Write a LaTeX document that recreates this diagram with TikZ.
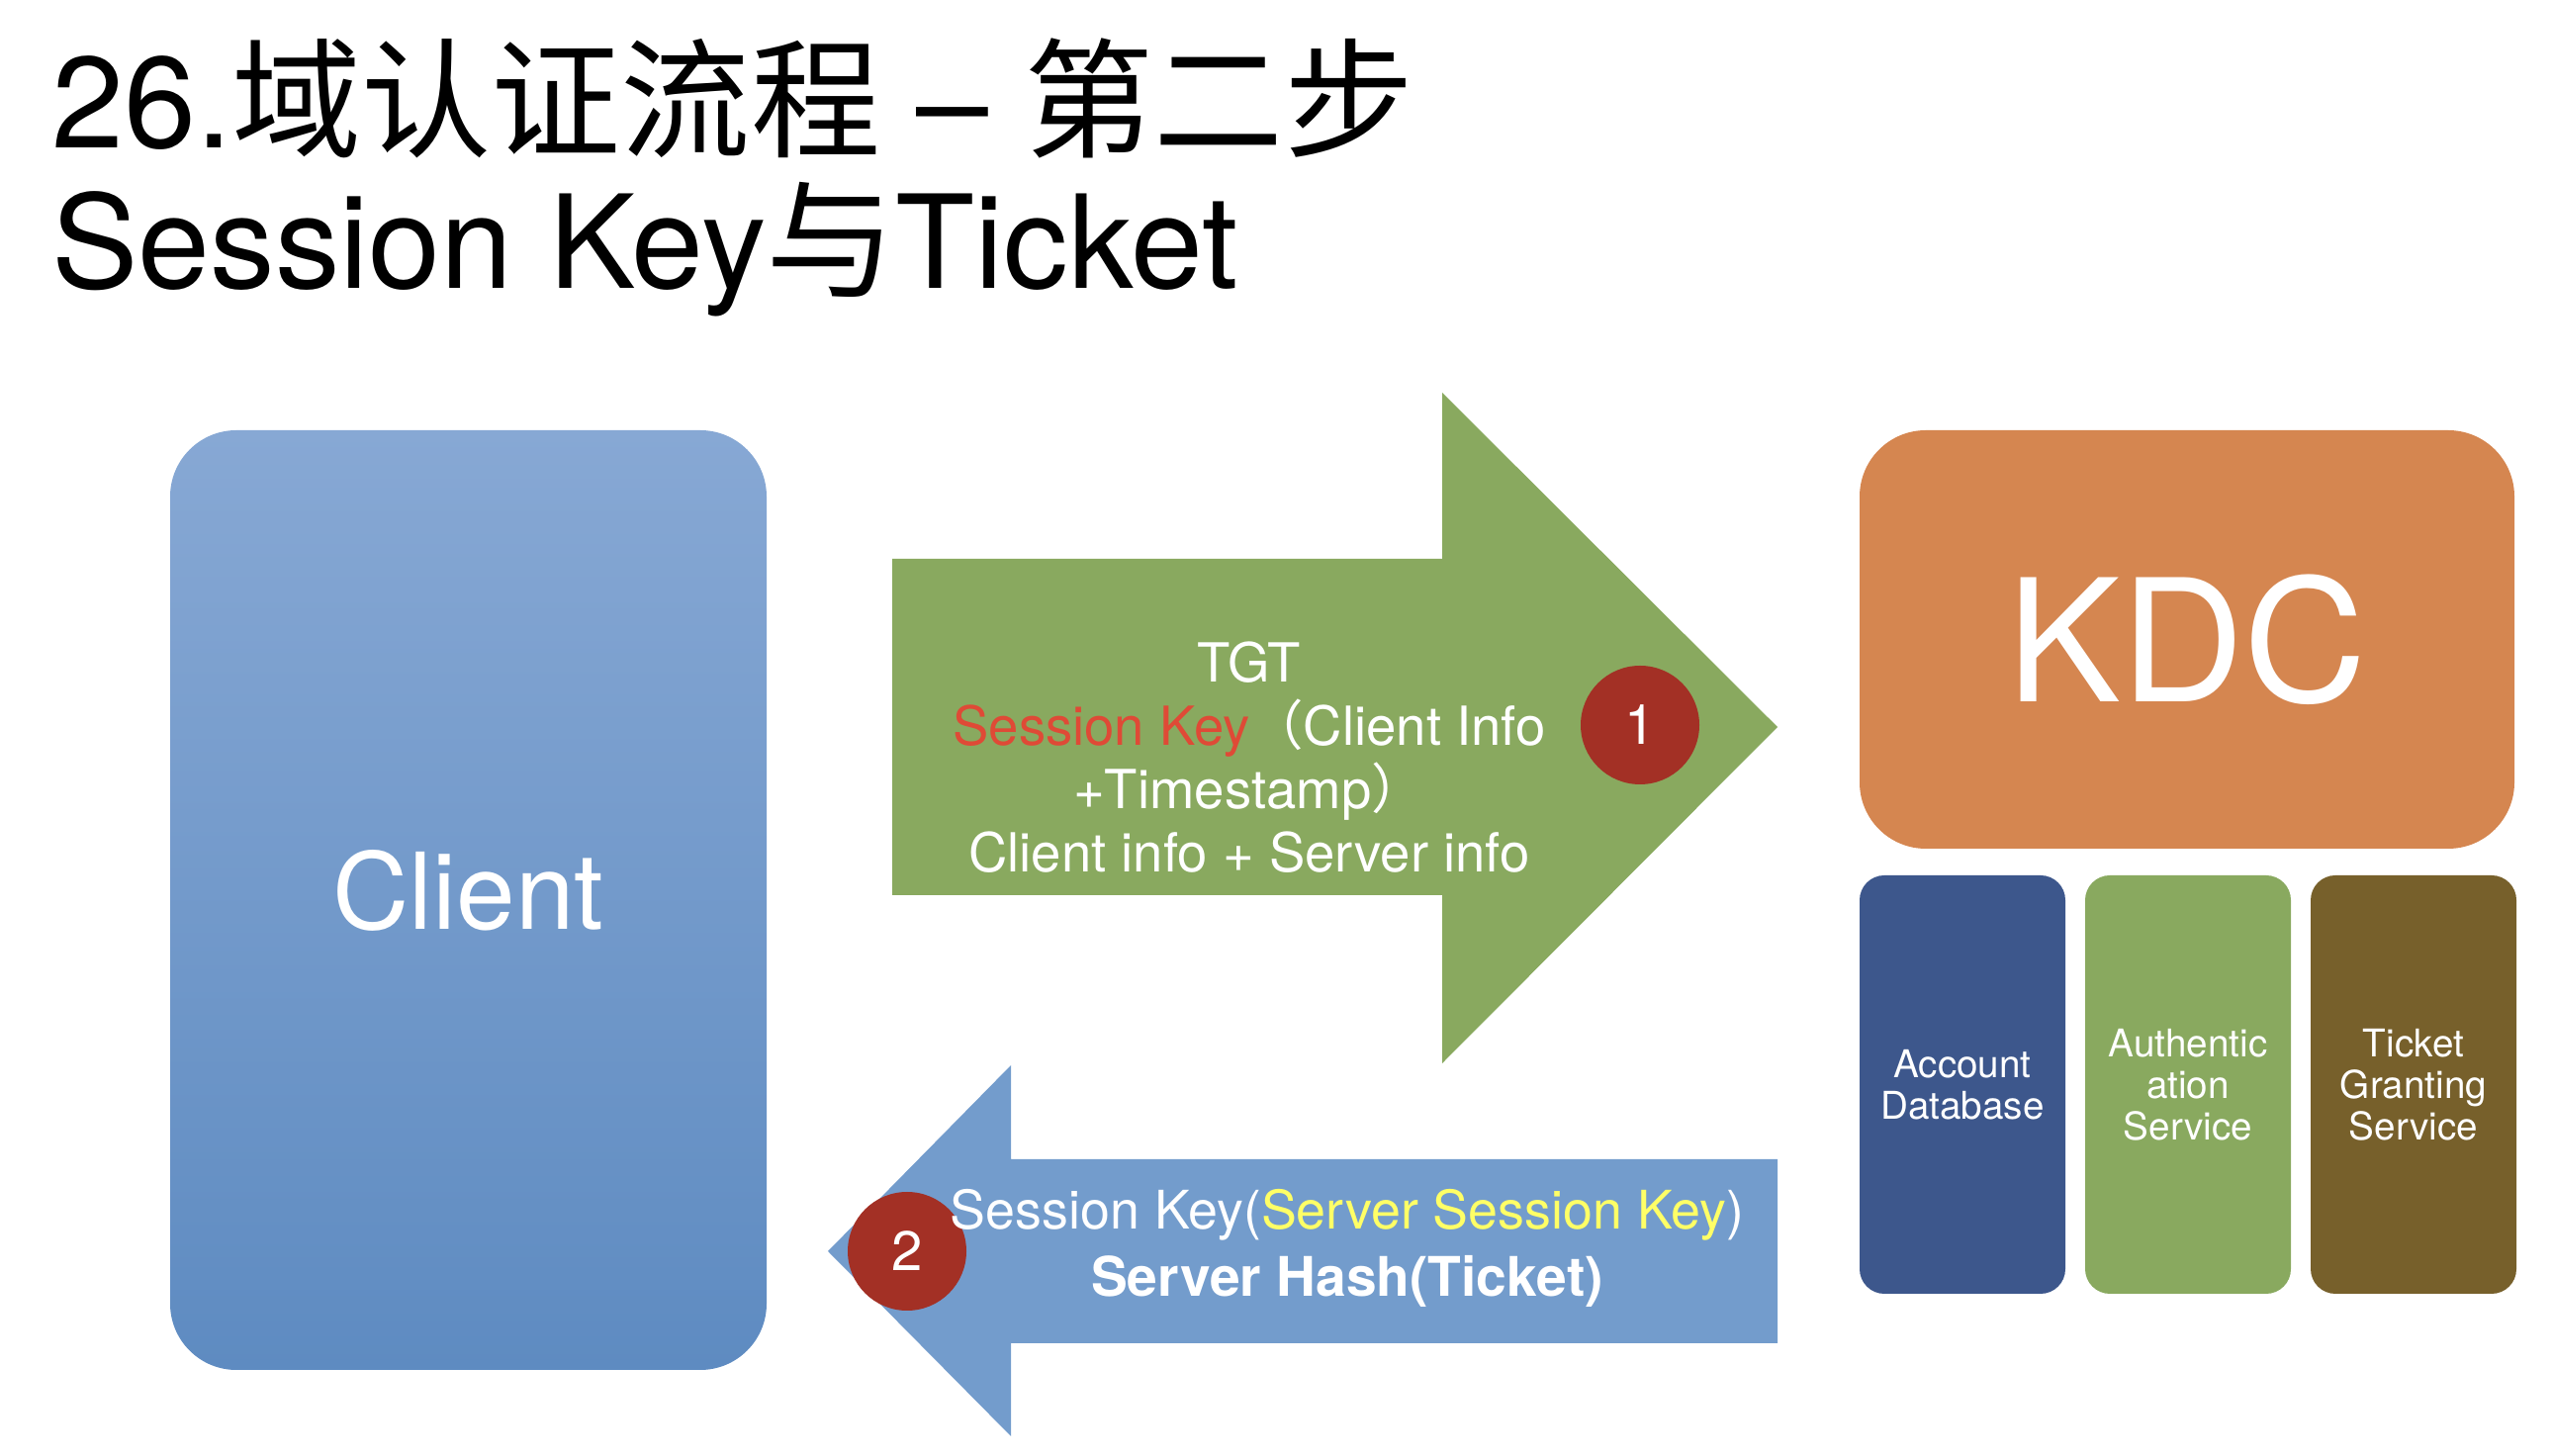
\documentclass[tikz,border=0pt]{standalone}
\usepackage{fontspec}
\setmainfont{TeX Gyre Heros}
\newfontfamily\cjk{Noto Sans CJK SC}
\usetikzlibrary{positioning}
\definecolor{clienttop}{HTML}{87A8D4}
\definecolor{clientbot}{HTML}{5E8BC1}
\definecolor{sendgreen}{HTML}{89A95F}
\definecolor{replyblue}{HTML}{739CCC}
\definecolor{numred}{HTML}{A33025}
\definecolor{kdcorange}{HTML}{D58650}
\definecolor{dbblue}{HTML}{3D578C}
\definecolor{asgreen}{HTML}{89A95F}
\definecolor{tgsbrown}{HTML}{77602B}
\definecolor{keyred}{HTML}{DF4A36}
\definecolor{keyyellow}{HTML}{FFFF66}
\begin{document}
\begin{tikzpicture}[
      box/.style={rounded corners=0.67cm, inner sep=0pt, outer sep=0pt, text=white},
      svc/.style={rounded corners=0.25cm, minimum width=2.08cm, minimum height=4.23cm,
        inner sep=0pt, outer sep=0pt, text=white, align=center,
        font=\fontsize{11}{12}\selectfont},
      num/.style={circle, fill=numred, minimum size=1.2cm, inner sep=0pt, text=white,
        font=\fontsize{16}{16}\selectfont},
      msg/.style={text=white, align=center}]
      \useasboundingbox (0,0) rectangle (25.8,14.72);
      % title
      \path (0.4,13.22) node[anchor=base west, font=\fontsize{37.3}{37.3}\selectfont] (title1)
        {26.{\cjk 域认证流程} – {\cjk 第二步}};
      \path (0.4,11.80) node[anchor=base west, font=\fontsize{37.3}{37.3}\selectfont] (title2)
        {Session Key{\cjk 与}Ticket};
      % client and kdc
      \node[box, top color=clienttop, bottom color=clientbot, minimum width=6.03cm,
        minimum height=9.5cm] (client) at (4.735,5.62) {};
      \path (client.center) ++(0,0.1) node[text=white, font=\fontsize{30.5}{30.5}\selectfont] (clientlbl) {Client};
      \node[box, fill=kdcorange, minimum width=6.62cm, minimum height=4.23cm,
        font=\fontsize{49}{49}\selectfont] (kdc) at (22.11,8.255) {KDC};
      \node[svc, fill=dbblue, below right=0.27cm and 0cm of kdc.south west] (accdb) {Account\\Database};
      \node[svc, fill=asgreen, right=0.2cm of accdb] (authsvc) {Authentic\\ation\\Service};
      \node[svc, fill=tgsbrown, right=0.2cm of authsvc] (tgsvc) {Ticket\\Granting\\Service};
      % block arrows
      \fill[sendgreen] (9.02,9.07) -- (14.58,9.07) -- (14.58,10.75) -- (17.97,7.37)
        -- (14.58,3.97) -- (14.58,5.67) -- (9.02,5.67) -- cycle;
      \fill[replyblue] (17.97,3.00) -- (10.22,3.00) -- (10.22,3.95) -- (8.37,2.07)
        -- (10.22,0.20) -- (10.22,1.14) -- (17.97,1.14) -- cycle;
      \node[num] (step1) at (16.58,7.39) {1};
      \node[num] (step2) at (9.17,2.07) {2};
      \node[msg, font=\fontsize{15.5}{18.2}\selectfont] (tgtmsg) at (12.63,7.06)
        {TGT\\\textcolor{keyred}{Session Key}{\cjk （}Client Info\\+Timestamp{\cjk ）}\\Client info + Server info};
      \node[msg, font=\fontsize{15.3}{19.3}\selectfont] (ticketmsg) at (13.62,2.10)
        {Session Key(\textcolor{keyyellow}{Server Session Key})\\{\fontsize{15.7}{19.3}\selectfont\bfseries Server Hash(Ticket)}};
\end{tikzpicture}
\end{document}
